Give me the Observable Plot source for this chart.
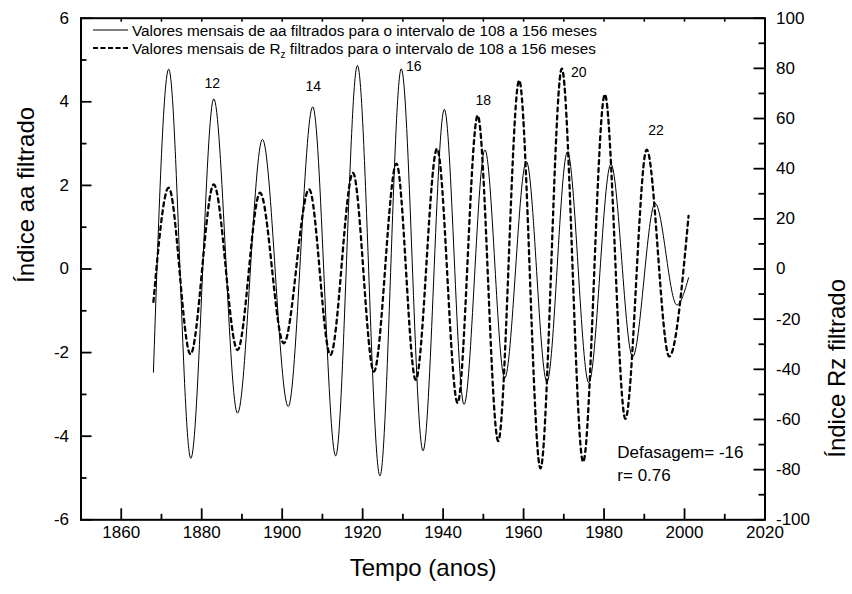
<!DOCTYPE html>
<html><head><meta charset="utf-8">
<script src="https://cdn.jsdelivr.net/npm/d3@7"></script>
<script src="https://cdn.jsdelivr.net/npm/@observablehq/plot@0.6"></script>
<style>
body{margin:0;background:#fff}
svg{font-family:"Liberation Sans",Arial,sans-serif}
</style>
</head><body><div id="chart"></div>
<script>
// aa index (left axis) – extrema
const aaYears  = [1868.0,1871.8,1877.3,1883.0,1888.9,1895.1,1901.5,1907.6,1913.3,1918.7,1924.3,1929.6,1935.0,1940.3,1945.2,1950.4,1955.3,1960.7,1965.8,1970.9,1976.2,1981.7,1987.1,1992.7,1998.1,2001.0];
const aaValues = [-2.47,4.78,-4.53,4.07,-3.45,3.10,-3.29,3.88,-4.47,4.87,-4.95,4.79,-4.35,3.82,-3.24,2.85,-2.61,2.57,-2.70,2.80,-2.72,2.51,-2.10,1.57,-0.86,-0.21];
// Rz (right axis)
const rzYears  = [1868.0,1871.8,1877.2,1883.0,1888.9,1894.5,1900.4,1906.7,1912.0,1917.6,1922.8,1928.4,1933.2,1938.5,1943.6,1948.6,1953.7,1958.9,1964.2,1969.5,1974.8,1980.2,1985.3,1990.6,1996.2,2001.0];
const rzValues = [-13.1,32.4,-34.0,33.7,-32.3,30.4,-29.6,31.8,-34.3,38.3,-40.9,42.0,-44.2,48.0,-53.4,61.2,-68.6,75.2,-79.5,79.9,-76.9,69.6,-59.7,47.6,-34.9,21.2];
// solar cycle labels
const cycleLabels = ["12","14","16","18","20","22"];
const cycleYears  = [1882.6,1907.7,1932.7,1950.0,1973.7,1992.9];
const cycleValues = [4.44,4.36,4.84,4.02,4.69,3.31];
// annotation
const annotText  = ["Defasagem= -16","r= 0.76"];
const annotYears = [1983.3,1983.3];
const annotValues= [-4.39,-4.94];
// ticks
const leftMajor  = [-6,-4,-2,0,2,4,6];
const leftMinor  = [-5,-3,-1,1,3,5];
const rightMajor = [-100,-80,-60,-40,-20,0,20,40,60,80,100];
const rightMinor = [-90,-70,-50,-30,-10,10,30,50,70,90];
const xMajor = [1860,1880,1900,1920,1940,1960,1980,2000,2020];
const xMinor = [1870,1890,1910,1930,1950,1970,1990,2010];
const xTop   = [1860,1870,1880,1890,1900,1910,1920,1930,1940,1950,1960,1970,1980,1990,2000,2010];
const legendLabels = ["Valores mensais de aa filtrados para o intervalo de 108 a 156 meses",
                      ["Valores mensais de R","z"," filtrados para o intervalo de 108 a 156 meses"]];

const K = 6/100; // Rz -> aa axis units
const aa = aaYears.map((t,i)=>({t, v: aaValues[i]}));
const rz = rzYears.map((t,i)=>({t, v: rzValues[i]*K}));

const W=852, H=594, mL=80.5, mR=852-764.5, mT=17.7, mB=594-519.3;
const iw = W-mL-mR, ih = H-mT-mB;
const fmt = d => d<0 ? "-"+Math.abs(d) : String(d);
const TW = 1.8;

const plot = Plot.plot({
  width: W, height: H,
  marginLeft: mL, marginRight: mR, marginTop: mT, marginBottom: mB,
  x: {domain:[1850,2020]},
  y: {domain:[-6,6]},
  style: {fontFamily:'"Liberation Sans",Arial,sans-serif', background:"white", color:"black"},
  marks: [
    Plot.line(rz, {x:"t", y:"v", curve:"monotone-x", stroke:"black", strokeWidth:2.3, strokeDasharray:"4,4"}),
    Plot.line(aa, {x:"t", y:"v", curve:"monotone-x", stroke:"black", strokeWidth:1}),
    Plot.frame({stroke:"black", strokeWidth:2}),
    Plot.tickY(leftMajor, {y:d=>d, insetRight: iw-11, strokeWidth:TW}),
    Plot.tickY(leftMinor, {y:d=>d, insetRight: iw-6, strokeWidth:TW}),
    Plot.tickY(rightMajor.map(v=>v*K), {y:d=>d, insetLeft: iw-11, strokeWidth:TW}),
    Plot.tickY(rightMinor.map(v=>v*K), {y:d=>d, insetLeft: iw-6, strokeWidth:TW}),
    Plot.tickX(xMajor, {x:d=>d, insetTop: ih-11, strokeWidth:TW}),
    Plot.tickX(xMinor, {x:d=>d, insetTop: ih-5.5, strokeWidth:TW}),
    Plot.tickX(xTop, {x:d=>d, insetBottom: ih-4, strokeWidth:1.5}),
    Plot.axisY(leftMajor, {anchor:"left", tickSize:0, tickPadding:12, tickFormat:fmt, fontSize:17, label:null}),
    Plot.axisY(rightMajor.map(v=>v*K), {anchor:"right", tickSize:0, tickPadding:11, tickFormat:d=>fmt(Math.round(d/K)), fontSize:17, label:null}),
    Plot.axisX(xMajor, {anchor:"bottom", tickSize:0, tickPadding:6, tickFormat:d=>String(d), fontSize:17, label:null}),
    Plot.text(cycleLabels, {x:(d,i)=>cycleYears[i], y:(d,i)=>cycleValues[i], text:d=>d, fontSize:14}),
    Plot.text(annotText, {x:(d,i)=>annotYears[i], y:(d,i)=>annotValues[i], text:d=>d, textAnchor:"start", fontSize:17}),
    Plot.text(["Índice aa filtrado"], {frameAnchor:"left", dx:-55, dy:14, rotate:-90, fontSize:24}),
    Plot.text(["Índice Rz filtrado"], {frameAnchor:"right", dx:72, dy:10, rotate:-90, fontSize:24}),
    Plot.text(["Tempo (anos)"], {frameAnchor:"bottom", dy:56, fontSize:24})
  ]
});

// legend (inside frame, top-left)
const svg = d3.select(plot);
const lg = svg.append("g").attr("fill","black").attr("font-size",15.3).attr("text-anchor","start");
const rows = [{y:30, dash:null, w:1}, {y:48, dash:"5,2.5", w:2}];
rows.forEach((r,i)=>{
  lg.append("line").attr("x1",93).attr("x2",128).attr("y1",r.y).attr("y2",r.y)
    .attr("stroke","black").attr("stroke-width",r.w).attr("stroke-dasharray",r.dash);
  const t = lg.append("text").attr("x",132).attr("y",r.y+5.5).attr("text-anchor","start");
  const lab = legendLabels[i];
  if (typeof lab === "string") t.text(lab);
  else {
    t.append("tspan").text(lab[0]);
    t.append("tspan").attr("font-size",10).attr("dy",4).text(lab[1]);
    t.append("tspan").attr("dy",-4).text(lab[2]);
  }
});
document.getElementById("chart").appendChild(plot);
</script>
</body></html>
